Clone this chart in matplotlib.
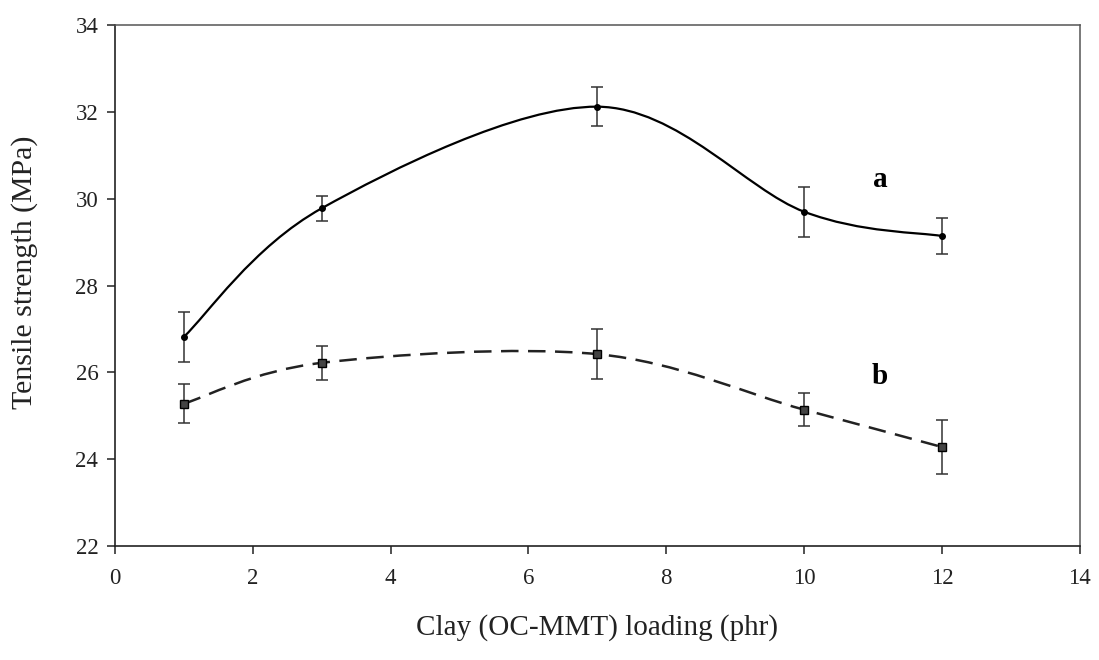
import numpy as np
import matplotlib.pyplot as plt
from matplotlib.path import Path
from matplotlib.patches import PathPatch

plt.rcParams['font.family'] = ['Liberation Serif', 'DejaVu Serif']

# clay loading (phr)
loading = [1, 3, 7, 10, 12]

# tensile strength (MPa) and error bars for the two series
strength_a = [26.82, 29.78, 32.12, 29.70, 29.14]
err_a = [0.58, 0.29, 0.45, 0.58, 0.42]
strength_b = [25.28, 26.22, 26.42, 25.14, 24.28]
err_b = [0.45, 0.39, 0.58, 0.38, 0.63]


def smooth_path(x, y):
    # spreadsheet-style smoothed line: cubic Bezier through each point
    p = np.column_stack([x, y]).astype(float)
    ext = np.vstack([p[0], p, p[-1]])
    verts = [p[0]]
    codes = [Path.MOVETO]
    for i in range(len(p) - 1):
        p0, p1, p2, p3 = ext[i], ext[i + 1], ext[i + 2], ext[i + 3]
        c1 = p1 + (p2 - p0) / 6.0
        c2 = p2 - (p3 - p1) / 6.0
        verts += [c1, c2, p2]
        codes += [Path.CURVE4] * 3
    return Path(verts, codes)


fig = plt.figure(figsize=(10.99, 6.6), dpi=100)
ax = fig.add_axes([0.1046, 0.1727, 0.878, 0.7893])

ax.add_patch(PathPatch(smooth_path(loading, strength_a), fill=False,
                       edgecolor='black', linewidth=1.6))
ax.add_patch(PathPatch(smooth_path(loading, strength_b), fill=False,
                       edgecolor='#222222', linewidth=1.8,
                       linestyle=(0, (7, 3.8))))

ax.errorbar(loading, strength_a, yerr=err_a, fmt='o', color='black',
            markersize=4, ecolor='#333333', elinewidth=1.1, capsize=4,
            capthick=1.1)
ax.errorbar(loading, strength_b, yerr=err_b, fmt='s', color='#444444',
            markeredgecolor='black', markersize=5.5, ecolor='#333333',
            elinewidth=1.1, capsize=4, capthick=1.1)

ax.text(11.1, 30.45, 'a', fontsize=21, fontweight='bold', ha='center', va='center')
ax.text(11.1, 25.9, 'b', fontsize=21, fontweight='bold', ha='center', va='center')

ax.set_xlim(0, 14)
ax.set_ylim(22, 34)
ax.set_xticks(np.arange(0, 15, 2))
ax.set_yticks(np.arange(22, 35, 2))
ax.tick_params(direction='out', length=6, width=1.1, labelsize=16.5,
               colors='#222222', pad=6)
ax.tick_params(axis='x', pad=10)
for side in ['left', 'bottom']:
    ax.spines[side].set_linewidth(1.2)
    ax.spines[side].set_color('#222222')
for side in ['top', 'right']:
    ax.spines[side].set_linewidth(1.1)
    ax.spines[side].set_color('#555555')

ax.set_xlabel('Clay (OC-MMT) loading (phr)', fontsize=21, labelpad=18,
              color='#222222')
ax.set_ylabel('Tensile strength (MPa)', fontsize=21.5, color='#222222')
ax.yaxis.set_label_coords(-0.08, 0.525)

fig.savefig('out.png', dpi=100, facecolor='white')
